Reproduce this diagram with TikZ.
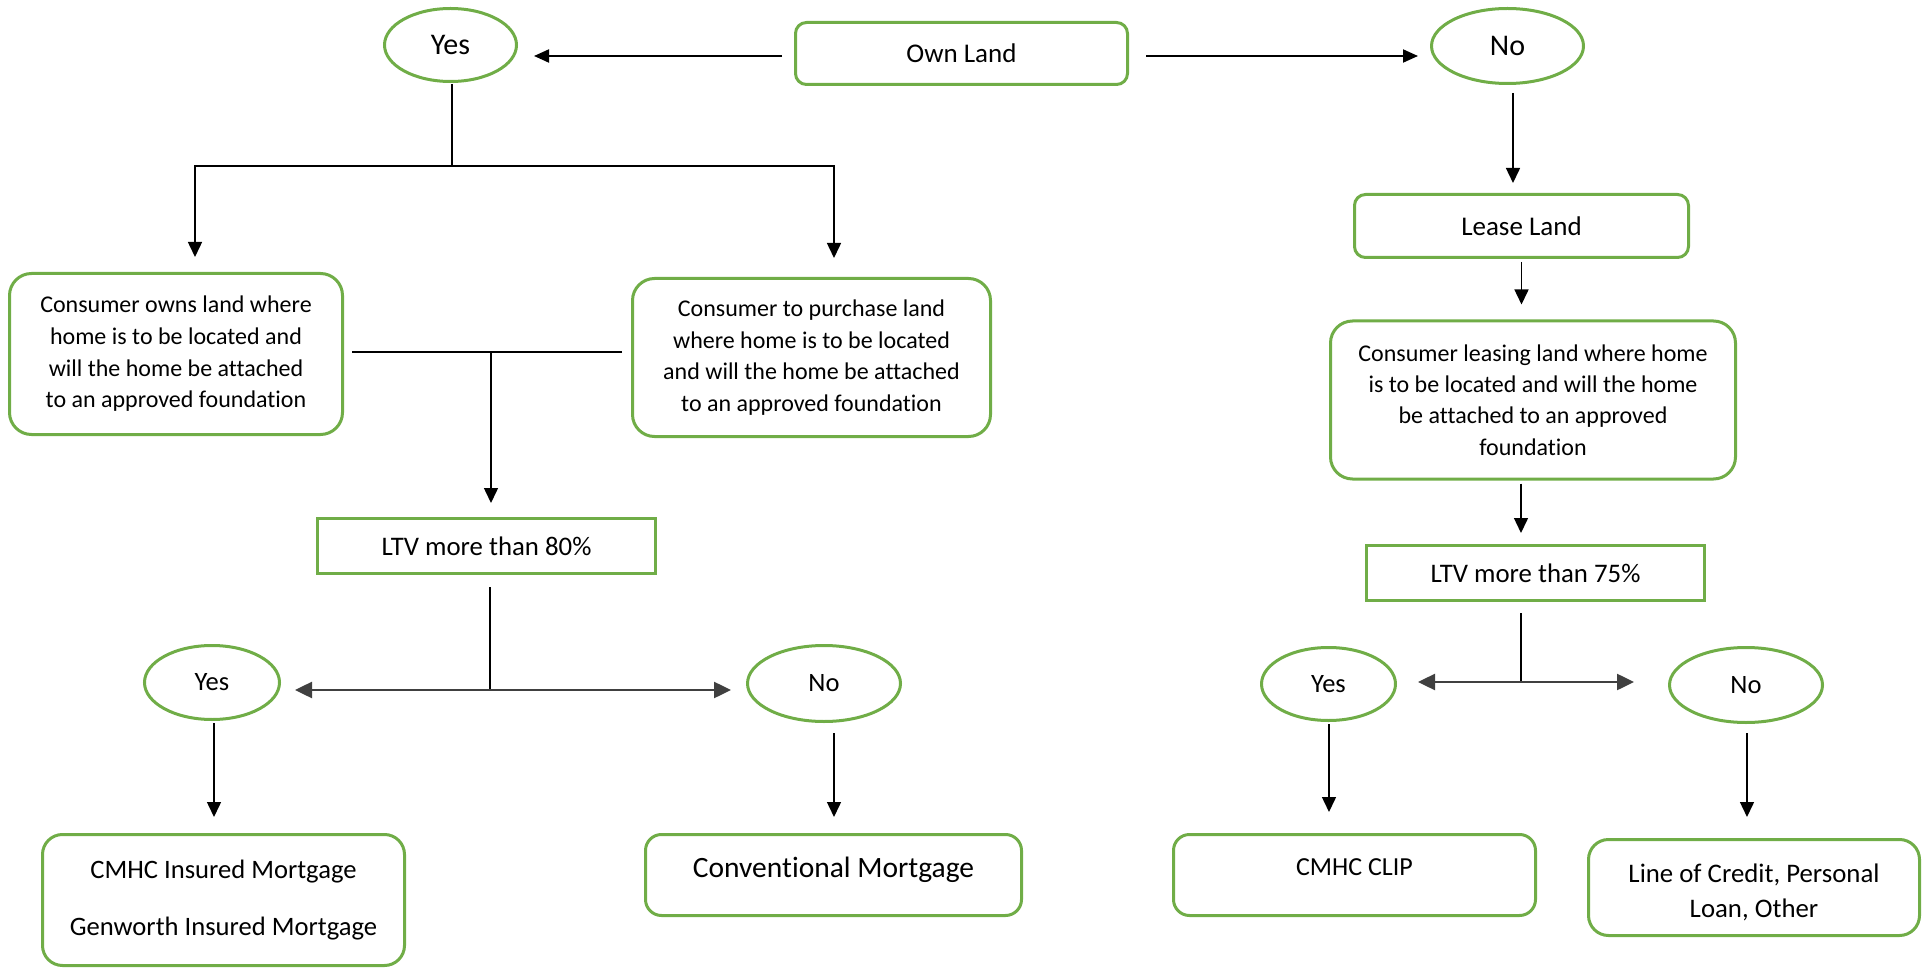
\documentclass[tikz,border=0pt]{standalone}
\usepackage{fontspec}
\setmainfont{Carlito}[Ligatures={NoCommon}]
\usetikzlibrary{arrows.meta,shapes.geometric}
\definecolor{boxgreen}{RGB}{112,173,71}
\definecolor{splitgray}{RGB}{64,64,64}

\begin{document}
\begin{tikzpicture}[x=1pt,y=-1pt,
  font=\fontsize{24}{31.7}\selectfont,
  roundbox/.style={draw=boxgreen,line width=3pt,rounded corners=#1,align=center,inner sep=0pt},
  roundbox/.default=22pt,
  plainbox/.style={draw=boxgreen,line width=3pt,align=center,inner sep=0pt,font=\fontsize{26.8}{32}\selectfont},
  answer/.style={draw=boxgreen,line width=3pt,ellipse,inner sep=0pt},
  link/.style={line width=1.5pt},
  arr/.style={link,-{Triangle[length=15pt,width=14pt]}},
  toparr/.style={line width=2pt,-{Triangle[length=15pt,width=13pt]}},
  splitarr/.style={draw=splitgray,line width=2.5pt,-{Triangle[length=17pt,width=16pt]}}]
   \useasboundingbox (0,0) rectangle (1923,968);

   \node[roundbox=11pt,minimum width=332pt,minimum height=62pt,font=\fontsize{27}{32}\selectfont] (own) at (961.5,53.5) {Own Land};
   \node[answer,minimum width=132pt,minimum height=73pt,font=\fontsize{30}{36}\selectfont] (yesT) at (450.5,45) {Yes};
   \node[answer,minimum width=152pt,minimum height=75pt,font=\fontsize{30}{36}\selectfont] (noT) at (1507.5,46) {No};

   \node[roundbox,minimum width=333pt,minimum height=161pt] (ownsbox) at (176,354)
     {Consumer owns land where\\home is to be located and\\will the home be attached\\to an approved foundation};
   \node[roundbox,minimum width=358pt,minimum height=158pt] (buybox) at (811.5,357.5)
     {Consumer to purchase land\\where home is to be located\\and will the home be attached\\to an approved foundation};
   \node[plainbox,minimum width=338pt,minimum height=55pt] (ltvown) at (486.5,546) {LTV more than 80\%};
   \node[answer,minimum width=135pt,minimum height=74pt,font=\fontsize{26.5}{32}\selectfont] (yesown) at (212,682.5) {Yes};
   \node[answer,minimum width=153pt,minimum height=76pt,font=\fontsize{26.5}{32}\selectfont] (noown) at (824,683.5) {No};
   \node[roundbox=20pt,minimum width=362pt,minimum height=131pt,font=\fontsize{26.6}{57}\selectfont] (insured) at (223.5,900)
     {CMHC Insured Mortgage\\Genworth Insured Mortgage};
   \node[roundbox=16pt,minimum width=376pt,minimum height=81pt,font=\fontsize{29.5}{36}\selectfont,text height=22pt,text depth=18pt] (conv) at (833.5,875) {Conventional Mortgage};

   \node[roundbox=11pt,minimum width=334pt,minimum height=63pt,font=\fontsize{27}{32}\selectfont] (lease) at (1521.5,226) {Lease Land};
   \node[roundbox,minimum width=405pt,minimum height=158pt,font=\fontsize{24}{31.3}\selectfont] (leasebox) at (1533,400)
     {Consumer leasing land where home\\is to be located and will the home\\be attached to an approved\\foundation};
   \node[plainbox,minimum width=338pt,minimum height=55pt] (ltvlease) at (1535.5,573) {LTV more than 75\%};
   \node[answer,minimum width=134pt,minimum height=73pt,font=\fontsize{26.5}{32}\selectfont] (yeslease) at (1328.5,684) {Yes};
   \node[answer,minimum width=153pt,minimum height=75pt,font=\fontsize{26.5}{32}\selectfont] (nolease) at (1746,685) {No};
   \node[roundbox=16pt,minimum width=362pt,minimum height=81pt,font=\fontsize{26}{32}\selectfont,text height=18pt,text depth=18pt] (clip) at (1354.5,875) {CMHC CLIP};
   \node[roundbox=20pt,minimum width=331pt,minimum height=96pt,font=\fontsize{26.8}{35}\selectfont,text height=64pt,text depth=4pt] (credit) at (1754,887.5)
     {Line of Credit, Personal\\Loan, Other};

   \coordinate (splitown) at (452,166);
   \coordinate (joinown) at (491,352);
   \coordinate (splitltvown) at (490,690);
   \coordinate (splitltvlease) at (1521,682);

   \draw[toparr,shorten <=12pt,shorten >=16pt] ([yshift=-2.5pt]own.west) -- ([yshift=-2.5pt]own.west -| yesT.east);
   \draw[toparr,shorten <=17pt,shorten >=12pt] ([yshift=-2.5pt]own.east) -- ([yshift=-2.5pt]own.east -| noT.west);

   \draw[link,shorten <=1pt] (yesT.south -| splitown) -- (splitown);
   \draw[arr,shorten >=15pt] (splitown) -| ([xshift=19pt]ownsbox.north);
   \draw[arr,shorten >=19pt] (splitown) -| ([xshift=22.5pt]buybox.north);

   \draw[link,shorten <=8pt] (ownsbox.east |- joinown) -- (joinown);
   \draw[link,shorten <=9pt] (buybox.west |- joinown) -- (joinown);
   \draw[arr,shorten >=14pt] (joinown) -- (joinown |- ltvown.north);

   \draw[link,shorten <=12pt] (ltvown.south -| splitltvown) -- (splitltvown);
   \draw[splitarr,shorten >=14pt] (splitltvown) -- (splitltvown -| yesown.east);
   \draw[splitarr,shorten >=15pt] (splitltvown) -- (splitltvown -| noown.west);
   \draw[arr,shorten <=2pt,shorten >=16pt] ([xshift=2pt]yesown.south) -- ([xshift=2pt]yesown.south |- insured.north);
   \draw[arr,shorten <=10pt,shorten >=16pt] ([xshift=10pt]noown.south) -- ([xshift=10pt]noown.south |- conv.north);

   \draw[arr,shorten <=8pt,shorten >=10pt] ([xshift=5.5pt]noT.south) -- ([xshift=5.5pt]noT.south |- lease.north);
   \draw[arr,shorten <=3pt,shorten >=15pt] (lease.south) -- (lease.south |- leasebox.north);
   \draw[arr,shorten <=3pt,shorten >=11pt] (leasebox.south -| splitltvlease) -- (ltvlease.north -| splitltvlease);
   \draw[link,shorten <=11pt] (ltvlease.south -| splitltvlease) -- (splitltvlease);
   \draw[splitarr,shorten >=21pt] (splitltvlease) -- (splitltvlease -| yeslease.east);
   \draw[splitarr,shorten >=34pt] (splitltvlease) -- (splitltvlease -| nolease.west);
   \draw[arr,shorten <=2pt,shorten >=21pt] ([xshift=0.5pt]yeslease.south) -- ([xshift=0.5pt]yeslease.south |- clip.north);
   \draw[arr,shorten <=9pt,shorten >=21pt] ([xshift=1pt]nolease.south) -- ([xshift=1pt]nolease.south |- credit.north);
  \end{tikzpicture}
\end{document}
